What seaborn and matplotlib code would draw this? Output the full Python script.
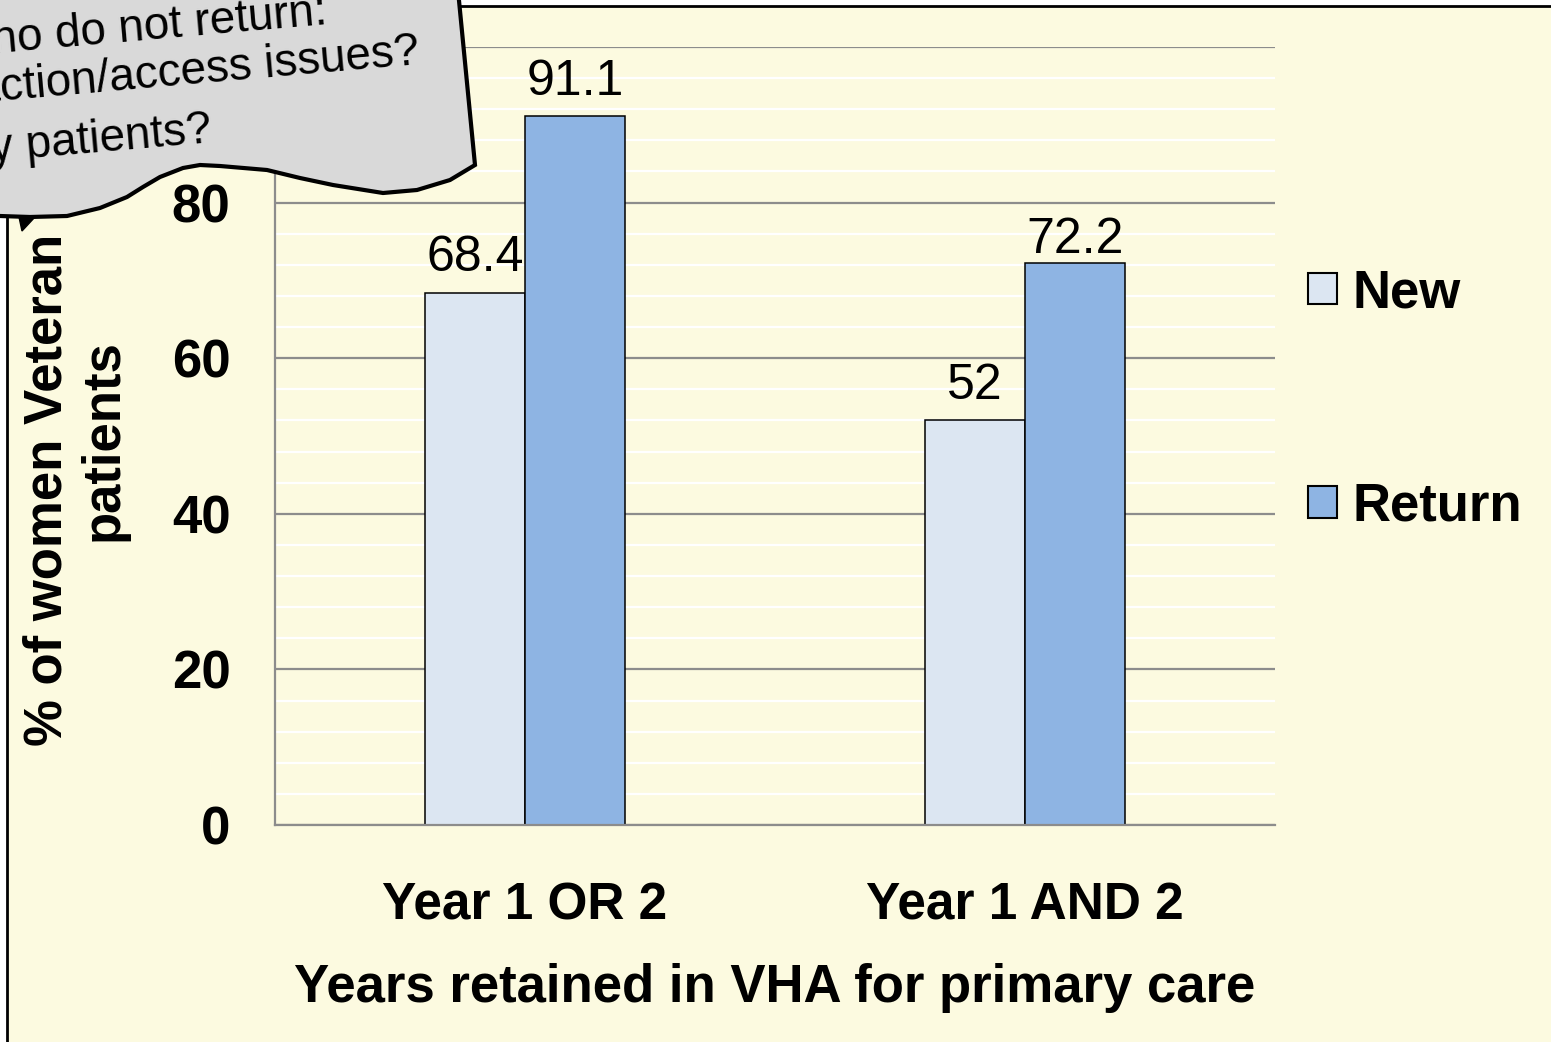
import pandas as pd
import matplotlib.pyplot as plt
import matplotlib.patches as mpatches
from matplotlib.ticker import MultipleLocator
import seaborn as sns

periods = ["Year 1 OR 2", "Year 1 AND 2"]
groups = ["New", "Return"]
new_pct = [68.4, 52]
return_pct = [91.1, 72.2]
bar_colors = ["#DCE6F2", "#8EB4E3"]

callout_lines = ["Women who do not return:", "Dissatisfaction/access issues?", "Healthy patients?"]

df = pd.DataFrame({
    "period": periods * 2,
    "group": [groups[0]] * len(periods) + [groups[1]] * len(periods),
    "pct": new_pct + return_pct,
})

sns.set_theme(style="white")
plt.rcParams['font.family'] = ['Liberation Sans', 'DejaVu Sans']
plt.rcParams.update({"text.color": "black", "axes.labelcolor": "black",
                     "xtick.color": "black", "ytick.color": "black"})

W, H = 1551, 1042
bg = "#FCFAE0"
grey = "#8C8C8C"

def fx(x):
    return x / W

def fy(y):
    return 1 - y / H

fig = plt.figure(figsize=(W / 100, H / 100), dpi=100)
fig.patch.set_facecolor("white")
fig.add_artist(mpatches.Rectangle((fx(7), -0.05), 1.1, fy(6) + 0.05, transform=fig.transFigure,
                                  facecolor=bg, edgecolor="black", lw=2, zorder=-10))

ax = fig.add_axes([fx(275), fy(825), 1000 / W, (825 - 47) / H])
ax.set_facecolor(bg)

sns.barplot(data=df, x="period", y="pct", hue="group", hue_order=groups, palette=bar_colors,
            saturation=1, edgecolor="black", linewidth=1.1, width=0.4, gap=0, legend=False, ax=ax)

ax.set_xlim(-0.5, 1.5)
ax.set_ylim(0, 100)
ax.yaxis.set_major_locator(MultipleLocator(20))
ax.yaxis.set_minor_locator(MultipleLocator(4))
ax.set_axisbelow(True)
ax.grid(which="minor", axis="y", color="white", lw=1.6)
ax.grid(which="major", axis="y", color=grey, lw=1.6)
ax.grid(False, axis="x")

for s in ["top", "right"]:
    ax.spines[s].set_visible(False)
for s in ["left", "bottom"]:
    ax.spines[s].set_color(grey)
    ax.spines[s].set_linewidth(1.6)

ax.tick_params(axis="y", which="major", length=11, width=1.6, color=grey, labelcolor="black",
               pad=21, labelsize=38)
ax.tick_params(axis="y", which="minor", length=0)
ax.tick_params(axis="x", length=0, pad=41, labelsize=37, labelcolor="black")
for lab in ax.get_yticklabels() + ax.get_xticklabels():
    lab.set_fontweight("bold")

ax.set_xlabel("Years retained in VHA for primary care", fontsize=38, fontweight="bold",
              labelpad=23, color="black")
ax.set_ylabel("")

for cont in ax.containers:
    anns = ax.bar_label(cont, labels=[f"{v:g}" for v in cont.datavalues], padding=8.3,
                        fontsize=36, color="black")
    for ann, v in zip(anns, cont.datavalues):
        if v == 72.2:
            ann.xyann = (0, 0.5)

fig.text(fx(62), fy(490), "% of women Veteran", rotation=90, ha="center", va="baseline",
         rotation_mode="anchor", fontsize=38, fontweight="bold", color="black")
fig.text(fx(118), fy(440), "patients", rotation=90, ha="center", va="baseline",
         rotation_mode="anchor", fontsize=38, fontweight="bold", color="black")

handles = [mpatches.Patch(facecolor=c, edgecolor="black", lw=1.5, label=g) for g, c in zip(groups, bar_colors)]
leg = ax.legend(handles=handles, loc="center left", bbox_to_anchor=(fx(1308), fy(400)),
                bbox_transform=fig.transFigure, frameon=False, prop={"size": 38, "weight": "bold"},
                handlelength=0.55, handleheight=0.55, handletextpad=0.3, labelspacing=3.1,
                borderpad=0, borderaxespad=0)
for t in leg.get_texts():
    t.set_color("black")

# callout bubble at top left
bubble = [(-20, -20), (457, -20), (475, 165), (450, 180), (417, 190), (383, 193), (333, 185),
          (300, 178), (267, 170), (220, 166), (200, 165), (183, 168), (160, 177), (143, 187),
          (127, 197), (100, 208), (67, 216), (30, 217), (0, 216), (-20, 216)]
fig.add_artist(mpatches.Polygon([(fx(x), fy(y)) for x, y in bubble], closed=True, transform=fig.transFigure,
                                facecolor="#D9D9D9", edgecolor="black", lw=3, zorder=5))
tail = [(19, 217), (35, 217), (22, 231)]
fig.add_artist(mpatches.Polygon([(fx(x), fy(y)) for x, y in tail], closed=True, transform=fig.transFigure,
                                facecolor="black", edgecolor="black", lw=1, zorder=5))
for (x, y), line in zip([(328, 24), (420, 64), (213, 142)], callout_lines):
    fig.text(fx(x), fy(y), line, rotation=5, ha="right", va="baseline", rotation_mode="anchor",
             fontsize=33, color="black", zorder=6)

fig.savefig("out.png", dpi=100, facecolor=fig.get_facecolor())
